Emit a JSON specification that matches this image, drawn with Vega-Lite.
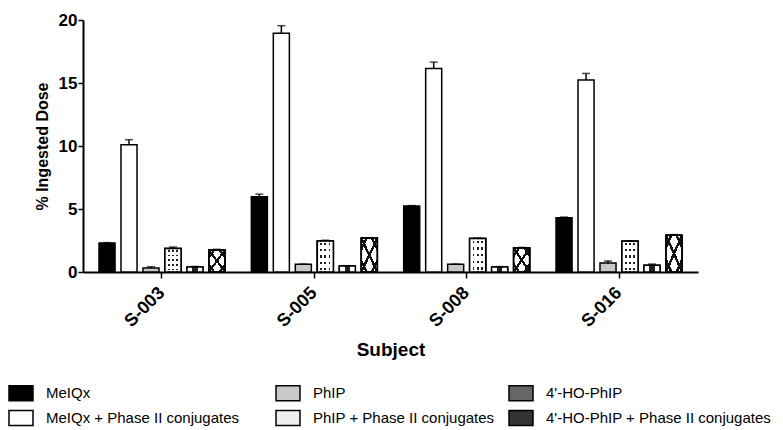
{
  "$schema": "https://vega.github.io/schema/vega-lite/v6.json",
  "width": 615,
  "height": 252,
  "autosize": {"type": "none"},
  "padding": {"left": 83, "top": 20, "right": 85, "bottom": 158},
  "background": "white",
  "config": {
    "font": "Liberation Sans",
    "view": {"stroke": null},
    "axis": {"domainColor": "#000", "tickColor": "#000", "labelColor": "#000", "titleColor": "#000", "grid": false, "domainWidth": 2, "tickWidth": 1.5}
  },
  "data": {
    "values": [
      {"subject": "S-003", "series": "MeIQx", "value": 2.3, "hi": 2.33},
      {"subject": "S-003", "series": "MeIQx + Phase II conjugates", "value": 10.1, "hi": 10.5},
      {"subject": "S-003", "series": "PhIP", "value": 0.32, "hi": 0.42},
      {"subject": "S-003", "series": "PhIP + Phase II conjugates", "value": 1.86, "hi": 1.98},
      {"subject": "S-003", "series": "4'-HO-PhIP", "value": 0.4, "hi": 0.44},
      {"subject": "S-003", "series": "4'-HO-PhIP + Phase II conjugates", "value": 1.75, "hi": 1.8},
      {"subject": "S-005", "series": "MeIQx", "value": 5.98, "hi": 6.18},
      {"subject": "S-005", "series": "MeIQx + Phase II conjugates", "value": 18.95, "hi": 19.55},
      {"subject": "S-005", "series": "PhIP", "value": 0.61, "hi": 0.63},
      {"subject": "S-005", "series": "PhIP + Phase II conjugates", "value": 2.47, "hi": 2.52},
      {"subject": "S-005", "series": "4'-HO-PhIP", "value": 0.48, "hi": 0.5},
      {"subject": "S-005", "series": "4'-HO-PhIP + Phase II conjugates", "value": 2.69, "hi": 2.72},
      {"subject": "S-008", "series": "MeIQx", "value": 5.24, "hi": 5.27},
      {"subject": "S-008", "series": "MeIQx + Phase II conjugates", "value": 16.16, "hi": 16.66},
      {"subject": "S-008", "series": "PhIP", "value": 0.61, "hi": 0.63},
      {"subject": "S-008", "series": "PhIP + Phase II conjugates", "value": 2.66, "hi": 2.7},
      {"subject": "S-008", "series": "4'-HO-PhIP", "value": 0.4, "hi": 0.43},
      {"subject": "S-008", "series": "4'-HO-PhIP + Phase II conjugates", "value": 1.91, "hi": 1.95},
      {"subject": "S-016", "series": "MeIQx", "value": 4.31, "hi": 4.36},
      {"subject": "S-016", "series": "MeIQx + Phase II conjugates", "value": 15.23, "hi": 15.76},
      {"subject": "S-016", "series": "PhIP", "value": 0.72, "hi": 0.87},
      {"subject": "S-016", "series": "PhIP + Phase II conjugates", "value": 2.45, "hi": 2.48},
      {"subject": "S-016", "series": "4'-HO-PhIP", "value": 0.53, "hi": 0.63},
      {"subject": "S-016", "series": "4'-HO-PhIP + Phase II conjugates", "value": 2.92, "hi": 2.97}
    ]
  },
  "encoding": {
    "x": {
      "field": "subject", "type": "nominal",
      "scale": {"paddingInner": 0.173, "paddingOuter": 0.105},
      "axis": {"title": "Subject", "titleFontSize": 19, "titleFontWeight": "bold", "titlePadding": 10,
        "labelAngle": -45, "labelAlign": "right", "labelBaseline": "middle", "labelFontSize": 18, "labelFontWeight": "bold", "labelPadding": 12, "labelDx": 4, "tickSize": 6}
    },
    "xOffset": {
      "field": "series", "type": "nominal",
      "sort": ["MeIQx", "MeIQx + Phase II conjugates", "PhIP", "PhIP + Phase II conjugates", "4'-HO-PhIP", "4'-HO-PhIP + Phase II conjugates"],
      "scale": {"paddingInner": 0.27, "paddingOuter": 0}
    },
    "y": {
      "field": "value", "type": "quantitative",
      "scale": {"domain": [0, 20], "nice": false},
      "axis": {"title": "% Ingested Dose", "titleFontSize": 16, "titleFontWeight": "bold", "titlePadding": 8,
        "values": [0, 5, 10, 15, 20], "labelFontSize": 17, "labelFontWeight": "bold", "labelPadding": 1, "tickSize": 5}
    }
  },
  "layer": [
    {
      "mark": {"type": "bar", "stroke": "#000", "strokeWidth": 1.5},
      "encoding": {
        "fill": {
          "field": "series", "type": "nominal",
          "scale": {
            "domain": ["MeIQx", "PhIP", "4'-HO-PhIP", "MeIQx + Phase II conjugates", "PhIP + Phase II conjugates", "4'-HO-PhIP + Phase II conjugates"],
            "range": ["#000000", "#c8c8c8", "#666666", "#ffffff", "#eeeeee", "#333333"]
          },
          "legend": {
            "title": null, "orient": "none", "legendX": -75, "legendY": 360,
            "direction": "horizontal", "columns": 3, "columnPadding": 11, "rowPadding": 1, "gridAlign": "each",
            "symbolType": "M-1,-0.625H1V0.625H-1Z", "symbolSize": 576, "symbolStrokeColor": "#000", "symbolStrokeWidth": 1.5, "symbolOpacity": 1,
            "labelFontSize": 15, "labelColor": "#000", "labelOffset": 12, "labelLimit": 400,
            "labelExpr": "datum.label === 'MeIQx + Phase II conjugates' ? datum.label + '\u2800\u2800' : datum.label"
          }
        }
      }
    },
    {
      "transform": [{"filter": {"field": "series", "equal": "PhIP + Phase II conjugates"}}],
      "mark": {"type": "bar", "stroke": "#000", "strokeWidth": 1.5,
        "fill": {"gradient": "linear", "x1": 0, "y1": 0, "x2": 0, "y2": 1, "stops": [
          {"offset": 0, "color": "#ffffff"},
          {"offset": 0.065, "color": "#ffffff"}, {"offset": 0.065, "color": "#222222"}, {"offset": 0.135, "color": "#222222"}, {"offset": 0.135, "color": "#ffffff"},
          {"offset": 0.265, "color": "#ffffff"}, {"offset": 0.265, "color": "#222222"}, {"offset": 0.335, "color": "#222222"}, {"offset": 0.335, "color": "#ffffff"},
          {"offset": 0.465, "color": "#ffffff"}, {"offset": 0.465, "color": "#222222"}, {"offset": 0.535, "color": "#222222"}, {"offset": 0.535, "color": "#ffffff"},
          {"offset": 0.665, "color": "#ffffff"}, {"offset": 0.665, "color": "#222222"}, {"offset": 0.735, "color": "#222222"}, {"offset": 0.735, "color": "#ffffff"},
          {"offset": 0.865, "color": "#ffffff"}, {"offset": 0.865, "color": "#222222"}, {"offset": 0.935, "color": "#222222"}, {"offset": 0.935, "color": "#ffffff"},
          {"offset": 1, "color": "#ffffff"}
        ]}}
    },
    {
      "transform": [{"filter": {"field": "series", "equal": "PhIP + Phase II conjugates"}}],
      "mark": {"type": "bar", "stroke": "#000", "strokeWidth": 1.5,
        "fill": {"gradient": "linear", "x1": 0, "y1": 0, "x2": 1, "y2": 0, "stops": [
          {"offset": 0, "color": "#ffffff"},
          {"offset": 0.18, "color": "#ffffff"}, {"offset": 0.18, "color": "rgba(255,255,255,0)"}, {"offset": 0.3, "color": "rgba(255,255,255,0)"}, {"offset": 0.3, "color": "#ffffff"},
          {"offset": 0.44, "color": "#ffffff"}, {"offset": 0.44, "color": "rgba(255,255,255,0)"}, {"offset": 0.56, "color": "rgba(255,255,255,0)"}, {"offset": 0.56, "color": "#ffffff"},
          {"offset": 0.7, "color": "#ffffff"}, {"offset": 0.7, "color": "rgba(255,255,255,0)"}, {"offset": 0.82, "color": "rgba(255,255,255,0)"}, {"offset": 0.82, "color": "#ffffff"},
          {"offset": 1, "color": "#ffffff"}
        ]}}
    },
    {
      "transform": [{"filter": {"field": "series", "equal": "4'-HO-PhIP + Phase II conjugates"}}],
      "mark": {"type": "bar", "stroke": "#000", "strokeWidth": 1.5,
        "fill": {"gradient": "linear", "x1": 0, "y1": 0, "x2": 1, "y2": 1, "stops": [
          {"offset": 0, "color": "#ffffff"},
          {"offset": 0.127, "color": "#ffffff"}, {"offset": 0.127, "color": "#111111"}, {"offset": 0.207, "color": "#111111"}, {"offset": 0.207, "color": "#ffffff"},
          {"offset": 0.46, "color": "#ffffff"}, {"offset": 0.46, "color": "#111111"}, {"offset": 0.54, "color": "#111111"}, {"offset": 0.54, "color": "#ffffff"},
          {"offset": 0.793, "color": "#ffffff"}, {"offset": 0.793, "color": "#111111"}, {"offset": 0.873, "color": "#111111"}, {"offset": 0.873, "color": "#ffffff"},
          {"offset": 1, "color": "#ffffff"}
        ]}}
    },
    {
      "transform": [{"filter": {"field": "series", "equal": "4'-HO-PhIP + Phase II conjugates"}}],
      "mark": {"type": "bar", "stroke": "#000", "strokeWidth": 1.5,
        "fill": {"gradient": "linear", "x1": 1, "y1": 0, "x2": 0, "y2": 1, "stops": [
          {"offset": 0, "color": "rgba(255,255,255,0)"},
          {"offset": 0.127, "color": "rgba(255,255,255,0)"}, {"offset": 0.127, "color": "#111111"}, {"offset": 0.207, "color": "#111111"}, {"offset": 0.207, "color": "rgba(255,255,255,0)"},
          {"offset": 0.46, "color": "rgba(255,255,255,0)"}, {"offset": 0.46, "color": "#111111"}, {"offset": 0.54, "color": "#111111"}, {"offset": 0.54, "color": "rgba(255,255,255,0)"},
          {"offset": 0.793, "color": "rgba(255,255,255,0)"}, {"offset": 0.793, "color": "#111111"}, {"offset": 0.873, "color": "#111111"}, {"offset": 0.873, "color": "rgba(255,255,255,0)"},
          {"offset": 1, "color": "rgba(255,255,255,0)"}
        ]}}
    },
    {
      "transform": [{"filter": {"field": "series", "equal": "4'-HO-PhIP"}}],
      "mark": {"type": "bar", "stroke": "#000", "strokeWidth": 1.5,
        "fill": {"gradient": "linear", "x1": 0, "y1": 0, "x2": 1, "y2": 0, "stops": [
          {"offset": 0, "color": "#ffffff"}, {"offset": 0.33, "color": "#ffffff"}, {"offset": 0.33, "color": "#222222"},
          {"offset": 0.67, "color": "#222222"}, {"offset": 0.67, "color": "#ffffff"}, {"offset": 1, "color": "#ffffff"}
        ]}}
    },
    {
      "mark": {"type": "rule", "color": "#000", "strokeWidth": 1.5},
      "encoding": {"y2": {"field": "hi"}}
    },
    {
      "mark": {"type": "tick", "color": "#000", "thickness": 1.5, "size": 8, "orient": "horizontal"},
      "encoding": {"y": {"field": "hi", "type": "quantitative"}}
    }
  ]
}
